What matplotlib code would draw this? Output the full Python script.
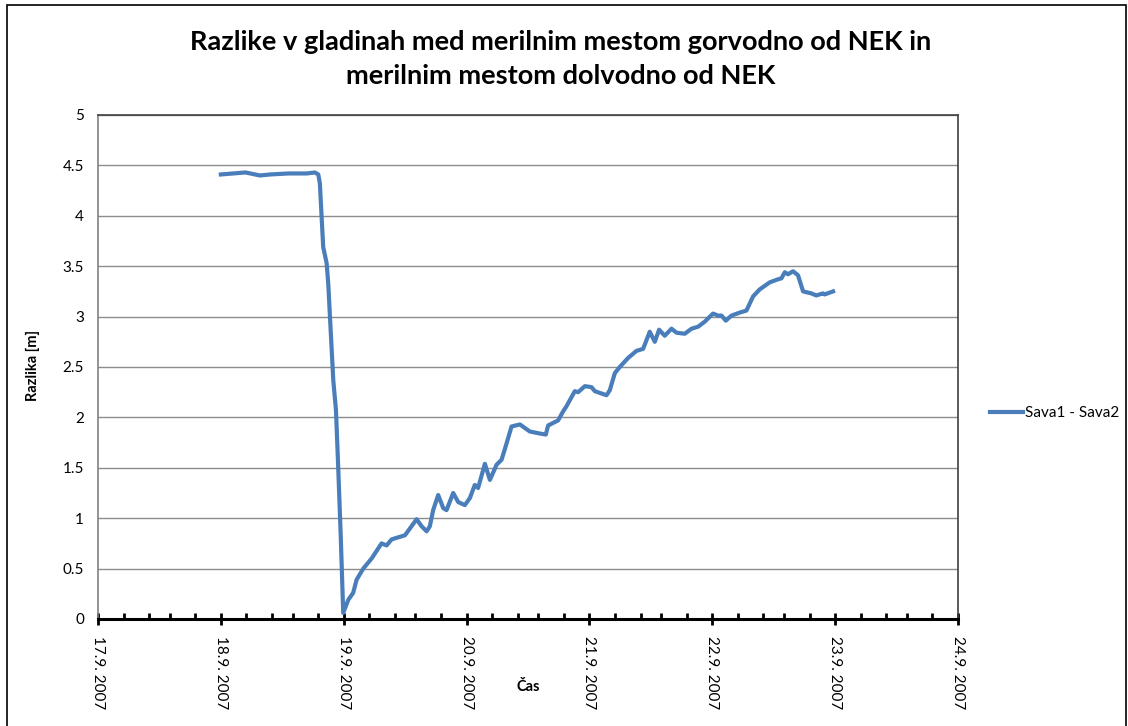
import numpy as np
import pandas as pd
import matplotlib
matplotlib.use("Agg")
import matplotlib.pyplot as plt
import matplotlib.dates as mdates
from matplotlib.patches import Rectangle

# Days after 17.9.2007 00:00 and level difference [m]
days = [1.000, 1.100, 1.200, 1.318, 1.400, 1.550, 1.700, 1.766, 1.793,
        1.806, 1.833, 1.861, 1.874, 1.888, 1.915, 1.937, 1.955, 1.975, 1.996,
        2.037, 2.077, 2.105, 2.159, 2.227, 2.308, 2.349, 2.390, 2.443, 2.498,
        2.552, 2.593, 2.634, 2.675, 2.701, 2.728, 2.769, 2.810, 2.837, 2.891,
        2.932, 2.986, 3.027, 3.067, 3.094, 3.149, 3.190, 3.244, 3.285, 3.325,
        3.366, 3.434, 3.515, 3.596, 3.645, 3.664, 3.745, 3.786, 3.813, 3.881,
        3.908, 3.963, 4.017, 4.044, 4.139, 4.166, 4.207, 4.247, 4.315, 4.383,
        4.437, 4.491, 4.532, 4.567, 4.613, 4.668, 4.709, 4.776, 4.831, 4.885,
        4.939, 5.006, 5.047, 5.075, 5.110, 5.156, 5.224, 5.278, 5.332, 5.386,
        5.468, 5.535, 5.563, 5.590, 5.617, 5.657, 5.698, 5.739, 5.807, 5.846,
        5.901, 5.915, 5.983]
razlika = [4.41, 4.42, 4.43, 4.40, 4.41, 4.42, 4.42, 4.43, 4.41,
           4.32, 3.69, 3.53, 3.33, 3.00, 2.37, 2.07, 1.51, 0.85, 0.06,
           0.19, 0.26, 0.39, 0.50, 0.60, 0.75, 0.73, 0.79, 0.81, 0.83,
           0.92, 0.99, 0.92, 0.87, 0.92, 1.08, 1.23, 1.10, 1.08, 1.25,
           1.16, 1.13, 1.20, 1.33, 1.30, 1.54, 1.38, 1.53, 1.58, 1.74,
           1.91, 1.93, 1.86, 1.84, 1.83, 1.92, 1.97, 2.06, 2.11, 2.26,
           2.25, 2.31, 2.30, 2.26, 2.22, 2.27, 2.44, 2.50, 2.59, 2.66,
           2.68, 2.85, 2.75, 2.87, 2.81, 2.88, 2.84, 2.83, 2.88, 2.90,
           2.95, 3.03, 3.01, 3.01, 2.96, 3.01, 3.04, 3.06, 3.20, 3.27,
           3.34, 3.37, 3.38, 3.44, 3.42, 3.45, 3.41, 3.25, 3.23, 3.21,
           3.23, 3.22, 3.25]

start = pd.Timestamp("2007-09-17")
cas = [start + pd.Timedelta(days=d) for d in days]

plt.rcParams['font.family'] = ['Lato', 'DejaVu Sans']

fig = plt.figure(figsize=(11.28, 7.26), dpi=100)
ax = fig.add_axes([98/1128, 1-619/726, 860/1128, 504/726])

line, = ax.plot(cas, razlika, color='#4a7ebb', linewidth=3, label='Sava1 - Sava2')

ax.set_xlim(start, start + pd.Timedelta(days=7))
ax.set_ylim(0, 5)
ax.set_yticks(np.arange(0, 5.01, 0.5))
ax.set_yticklabels(['0', '0.5', '1', '1.5', '2', '2.5', '3', '3.5', '4', '4.5', '5'])
ax.yaxis.grid(True, color='#8c8c8c', linewidth=1)
ax.set_axisbelow(True)
ax.tick_params(axis='y', length=0, labelsize=11, pad=10)

ax.xaxis.set_major_locator(mdates.DayLocator())
ax.xaxis.set_minor_locator(mdates.HourLocator(byhour=[0, 5, 10, 14, 19]))
ax.xaxis.set_major_formatter(mdates.DateFormatter('%-d.%-m. %Y'))
ax.tick_params(axis='x', which='major', direction='inout', length=8, width=2,
               labelsize=11, labelrotation=-90, pad=8)
ax.tick_params(axis='x', which='minor', direction='in', length=4, width=2)

ax.spines['bottom'].set_linewidth(2.2)
ax.spines['bottom'].set_color('black')
ax.spines['left'].set_color('#808080')
ax.spines['left'].set_linewidth(1.2)
ax.spines['top'].set_color('#404040')
ax.spines['top'].set_linewidth(1.2)
ax.spines['right'].set_color('#404040')
ax.spines['right'].set_linewidth(1.2)

ax.set_xlabel('Čas', fontsize=10.5, fontweight='bold')
ax.xaxis.set_label_coords(0.5, -0.121)
ax.set_ylabel('Razlika [m]', fontsize=10.5, fontweight='bold')
ax.yaxis.set_label_coords(-0.067, 0.504)

fig.text(0.497, 1-59/726, 'Razlike v gladinah med merilnim mestom gorvodno od NEK in\nmerilnim mestom dolvodno od NEK',
         ha='center', va='center', fontsize=19.5, fontweight='bold', linespacing=1.5)

fig.legend(handles=[line], loc='center left', bbox_to_anchor=(976/1128, 1-413/726),
           frameon=False, fontsize=11, handlelength=2.2, handletextpad=0.1)

fig.patches.append(Rectangle((7/1128, -0.01), 1119/1128, 1-5/726+0.01,
                             transform=fig.transFigure, fill=False,
                             edgecolor='black', linewidth=1.2))

fig.savefig('out.png', dpi=100)
